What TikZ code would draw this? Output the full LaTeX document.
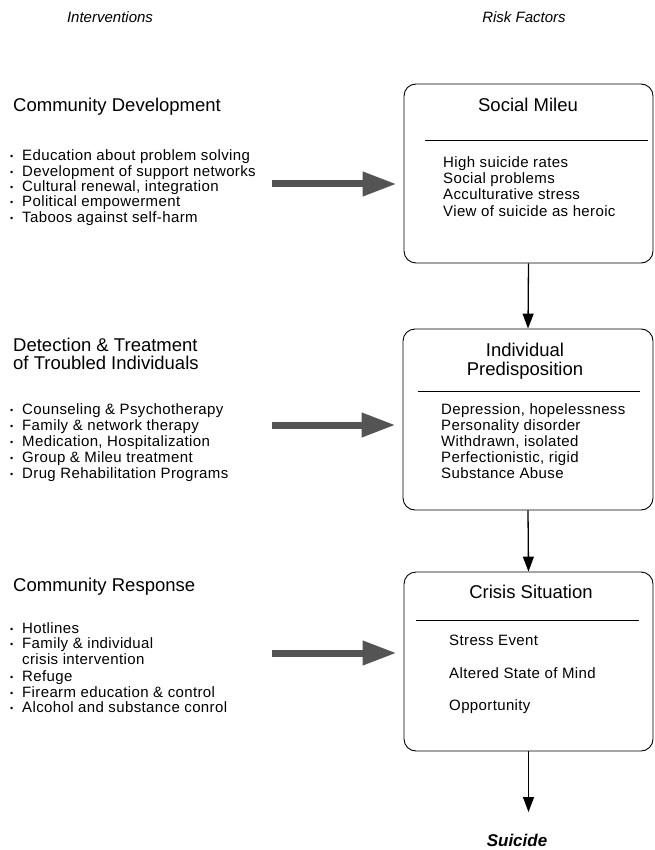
\documentclass[tikz,border=0pt]{standalone}
\usepackage{fontspec}
\setmainfont{Liberation Sans}
\usetikzlibrary{arrows.meta}
\newcommand{\itemfont}{\fontsize{15}{16}\selectfont\addfontfeature{LetterSpace=2.5}}
\newcommand{\headfont}{\fontsize{18.5}{18}\selectfont}
\newcommand{\bul}{\makebox[12pt][l]{\fontsize{9}{9}\selectfont\raisebox{1pt}{•}}}
\definecolor{arrowgray}{gray}{0.33}
\tikzset{
  riskbox/.style={draw, line width=0.9pt, rounded corners=12pt, inner sep=0pt},
  head/.style={font=\headfont, inner sep=0pt, anchor=base},
  lefthead/.style={font=\headfont, inner sep=0pt, anchor=base west},
  item/.style={font=\itemfont, inner sep=0pt, anchor=base west},
  coltitle/.style={font=\fontsize{15}{15}\selectfont\itshape, inner sep=0pt, anchor=base},
  divider/.style={line width=0.9pt},
  flow/.style={line width=1.3pt, -{Triangle[width=11pt,length=15pt]}},
  grayarrow/.style={line width=7pt, arrowgray, -{Triangle[width=23pt,length=34pt]}, shorten >=7pt}
}
\begin{document}
\begin{tikzpicture}[x=1pt,y=-1pt]
\useasboundingbox (0,0) rectangle (654,850);

% column titles
\node[coltitle] (tint) at (110,23) {Interventions};
\node[coltitle] (trisk) at (524,23) {Risk Factors};

% risk factor boxes
\node[riskbox, minimum width=249pt, minimum height=179pt] (box1) at (528.5,173.5) {};
\node[riskbox, minimum width=250pt, minimum height=181pt] (box2) at (528,419.5) {};
\node[riskbox, minimum width=249pt, minimum height=179pt] (box3) at (528.5,661.5) {};

% box 1
\node[head] (sm) at (528,111.5) {Social Mileu};
\draw[divider] (425,140) -- (648,140);
\foreach \t [count=\i] in {High suicide rates, Social problems, Acculturative stress, View of suicide as heroic}
  \node[item, name=smi\i] at (443,{168+(\i-1)*16}) {\t};

% box 2
\node[head] (ip1) at (525,356.5) {Individual};
\node[head] (ip2) at (525,375) {Predisposition};
\draw[divider] (418,391) -- (640,391);
\foreach \t [count=\i] in {{Depression, hopelessness}, Personality disorder, {Withdrawn, isolated}, {Perfectionistic, rigid}, Substance Abuse}
  \node[item, name=ipi\i] at (441,{414+(\i-1)*16}) {\t};

% box 3
\node[head] (cs) at (531,598.5) {Crisis Situation};
\draw[divider] (416,620) -- (639,620);
\node[item] (csi1) at (449,645) {Stress Event};
\node[item] (csi2) at (449,678) {Altered State of Mind};
\node[item] (csi3) at (449,710) {Opportunity};

% suicide
\node[font=\fontsize{17}{17}\selectfont\bfseries\itshape, inner sep=0pt, anchor=base] (suicide) at (517,846) {Suicide};
\coordinate (tip) at (523,812);

% flow arrows
\draw[flow] (box1.south) -- (box2.north);
\draw[flow] (box2.south) -- (box3.north);
\draw[flow] (box3.south) -- (box3.south |- tip);

% interventions: community development
\node[lefthead] (cd) at (13,111.5) {Community Development};
\foreach \t [count=\i] in {Education about problem solving, Development of support networks, {Cultural renewal, integration}, Political empowerment, Taboos against self-harm}
  \node[item, name=cdi\i] at (10,{161+(\i-1)*15.3}) {\bul\t};

% detection & treatment
\node[lefthead] (dt1) at (13,351.5) {Detection \& Treatment};
\node[lefthead] (dt2) at (13,369.5) {of Troubled Individuals};
\foreach \t [count=\i] in {Counseling \& Psychotherapy, Family \& network therapy, {Medication, Hospitalization}, Group \& Mileu treatment, Drug Rehabilitation Programs}
  \node[item, name=dti\i] at (10,{414+(\i-1)*16}) {\bul\t};

% community response
\node[lefthead] (cr) at (13,591.5) {Community Response};
\node[item] (cri1) at (10,633) {\bul Hotlines};
\node[item] (cri2) at (10,648) {\bul Family \& individual};
\node[item] (cri2b) at (22,664.5) {crisis intervention};
\node[item] (cri3) at (10,681) {\bul Refuge};
\node[item] (cri4) at (10,697) {\bul Firearm education \& control};
\node[item] (cri5) at (10,712.5) {\bul Alcohol and substance conrol};

% gray arrows
\coordinate (g1) at (272,184);
\coordinate (g2) at (272,425);
\coordinate (g3) at (272,653);
\draw[grayarrow] (g1) -- (g1 -| box1.west);
\draw[grayarrow] (g2) -- (g2 -| box2.west);
\draw[grayarrow] (g3) -- (g3 -| box3.west);
\end{tikzpicture}
\end{document}
